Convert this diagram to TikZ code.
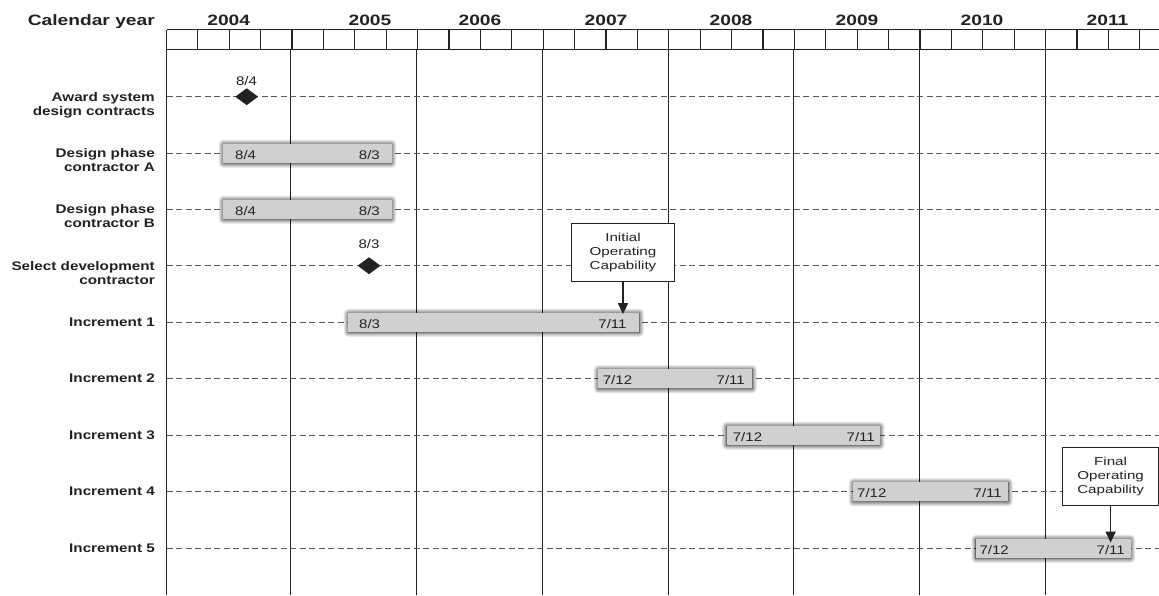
\documentclass[tikz,border=0pt]{standalone}
\usepackage{fontspec}
\setmainfont{Liberation Sans}
\usetikzlibrary{shadows.blur,arrows.meta,shapes.geometric}
\definecolor{barfill}{RGB}{208,208,208}
\definecolor{ink}{RGB}{34,34,34}
\definecolor{dashgray}{RGB}{90,90,90}
\newcommand{\rlw}[1]{\scalebox{1.22}[1]{#1}}
\newcommand{\yrw}[1]{\scalebox{1.28}[1]{#1}}
\newcommand{\dtw}[1]{\scalebox{1.2}[1]{#1}}
\newcommand{\cow}[1]{\scalebox{1.32}[1]{#1}}
\begin{document}
\begin{tikzpicture}[x=1pt,y=-1pt,
  rowlabel/.style={anchor=north east, align=right, inner sep=0pt, text=ink,
    font=\fontsize{12.5}{14}\selectfont\bfseries},
  yearlabel/.style={anchor=base, inner sep=0pt, text=ink, font=\fontsize{15}{18}\selectfont\bfseries},
  rowline/.style={dashgray, line width=0.8pt, dash pattern=on 6pt off 3.5pt},
  yearline/.style={ink, line width=1pt},
  hdr/.style={ink, line width=1.2pt},
  bar/.style={rectangle, fill=barfill, draw=none, minimum height=19pt, inner sep=0pt,
    blur shadow={shadow xshift=0pt, shadow yshift=-0.5pt, shadow blur radius=5pt, shadow opacity=100, shadow blur steps=10}},
  datel/.style={anchor=base west, inner sep=0pt, text=ink, font=\fontsize{12.5}{14}\selectfont},
  dater/.style={anchor=base east, inner sep=0pt, text=ink, font=\fontsize{12.5}{14}\selectfont},
  datec/.style={anchor=base, inner sep=0pt, text=ink, font=\fontsize{12.5}{14}\selectfont},
  milestone/.style={diamond, fill=ink, draw=none, inner sep=0pt, minimum width=23pt, minimum height=17pt},
  callout/.style={rectangle, draw=ink, line width=0.9pt, fill=white, align=center, inner sep=0pt,
    minimum width=103pt, minimum height=58pt, text=ink, font=\fontsize{11.5}{14}\selectfont},
  arr/.style={ink, line width=1.6pt, -{Triangle[width=10pt,length=11pt]}}
]
\useasboundingbox (0,0) rectangle (1159,595);

% header
\node[anchor=base east, inner sep=0pt, text=ink, font=\fontsize{15}{18}\selectfont\bfseries] (cal) at (155,25) {\yrw{Calendar year}};
\node[yearlabel] (y2004) at (228.7,25) {\yrw{2004}};
\node[yearlabel] (y2005) at (370,25) {\yrw{2005}};
\node[yearlabel] (y2006) at (480,25) {\yrw{2006}};
\node[yearlabel] (y2007) at (606,25) {\yrw{2007}};
\node[yearlabel] (y2008) at (731,25) {\yrw{2008}};
\node[yearlabel] (y2009) at (857,25) {\yrw{2009}};
\node[yearlabel] (y2010) at (982,25) {\yrw{2010}};
\node[yearlabel] (y2011) at (1107.5,25) {\yrw{2011}};

\draw[hdr] (166.5,29.5) -- (1159,29.5);
\draw[hdr] (166.5,49.5) -- (1159,49.5);
\foreach \k in {0,...,31} {
  \draw[hdr] ({166.5+31.393*\k},29.5) -- ({166.5+31.393*\k},49.5);
}
\foreach \x in {166.5,290.5,416.5,542.5,668.5,793.5,919.5,1045.5} {
  \draw[yearline] (\x,49.5) -- (\x,595);
}

% row dashed lines
\foreach \y in {96.5,153.5,209.5,265.5,322.5,378.5,435.5,491.5,548.5} {
  \draw[rowline] (166.5,\y) -- (1159,\y);
}

% row labels
\node[rowlabel] (lAward) at (155,92.0) {\rlw{Award system}\\\rlw{design contracts}};
\node[rowlabel] (lDesA) at (155,148.6) {\rlw{Design phase}\\\rlw{contractor A}};
\node[rowlabel] (lDesB) at (155,204.6) {\rlw{Design phase}\\\rlw{contractor B}};
\node[rowlabel] (lSel) at (155,261.0) {\rlw{Select development}\\\rlw{contractor}};
\node[rowlabel] (lInc1) at (155,317.6) {\rlw{Increment 1}};
\node[rowlabel] (lInc2) at (155,374.0) {\rlw{Increment 2}};
\node[rowlabel] (lInc3) at (155,430.6) {\rlw{Increment 3}};
\node[rowlabel] (lInc4) at (155,487.0) {\rlw{Increment 4}};
\node[rowlabel] (lInc5) at (155,543.6) {\rlw{Increment 5}};

% milestones
\node[milestone] (award) at (246.7,96.7) {};
\node[datec] (awardd) at (246.5,85.2) {\dtw{8/4}};
\node[milestone] (select) at (369,265.7) {};
\node[datec] (selectd) at (369,248.8) {\dtw{8/3}};

% bars
\node[bar, minimum width=168.4pt] (desA) at (307.5,153.3) {};
\node[datel] (desAs) at (235,159.5) {\dtw{8/4}};
\node[dater] (desAe) at (380,159.5) {\dtw{8/3}};

\node[bar, minimum width=168.4pt] (desB) at (307.5,209.3) {};
\node[datel] (desBs) at (235,215.5) {\dtw{8/4}};
\node[dater] (desBe) at (380,215.5) {\dtw{8/3}};

\node[bar, minimum width=291pt] (inc1) at (493.8,322.3) {};
\node[datel] (inc1s) at (359,328.5) {\dtw{8/3}};
\node[dater] (inc1e) at (626.7,328.5) {\dtw{7/11}};

\node[bar, minimum width=154pt] (inc2) at (675.3,378.7) {};
\node[datel] (inc2s) at (602.7,384.9) {\dtw{7/12}};
\node[dater] (inc2e) at (745,384.9) {\dtw{7/11}};

\node[bar, minimum width=153.3pt] (inc3) at (803.3,435.3) {};
\node[datel] (inc3s) at (732.7,441.5) {\dtw{7/12}};
\node[dater] (inc3e) at (875,441.5) {\dtw{7/11}};

\node[bar, minimum width=155pt] (inc4) at (930.8,491.7) {};
\node[datel] (inc4s) at (857,497.9) {\dtw{7/12}};
\node[dater] (inc4e) at (1002,497.9) {\dtw{7/11}};

\node[bar, minimum width=154.7pt] (inc5) at (1053.3,548.3) {};
\node[datel] (inc5s) at (979.3,554.5) {\dtw{7/12}};
\node[dater] (inc5e) at (1125,554.5) {\dtw{7/11}};

% callouts
\node[callout] (ioc) at (623,252.2) {\cow{Initial}\\\cow{Operating}\\\cow{Capability}};
\node[callout, minimum width=95.8pt] (foc) at (1110.6,476.5) {\cow{Final}\\\cow{Operating}\\\cow{Capability}};

\draw[arr] (ioc.south) -- ([yshift=-1.5pt]ioc.south |- inc1.north);
\draw[arr] (foc.south) -- ([yshift=-4pt]foc.south |- inc5.north);
\end{tikzpicture}
\end{document}
